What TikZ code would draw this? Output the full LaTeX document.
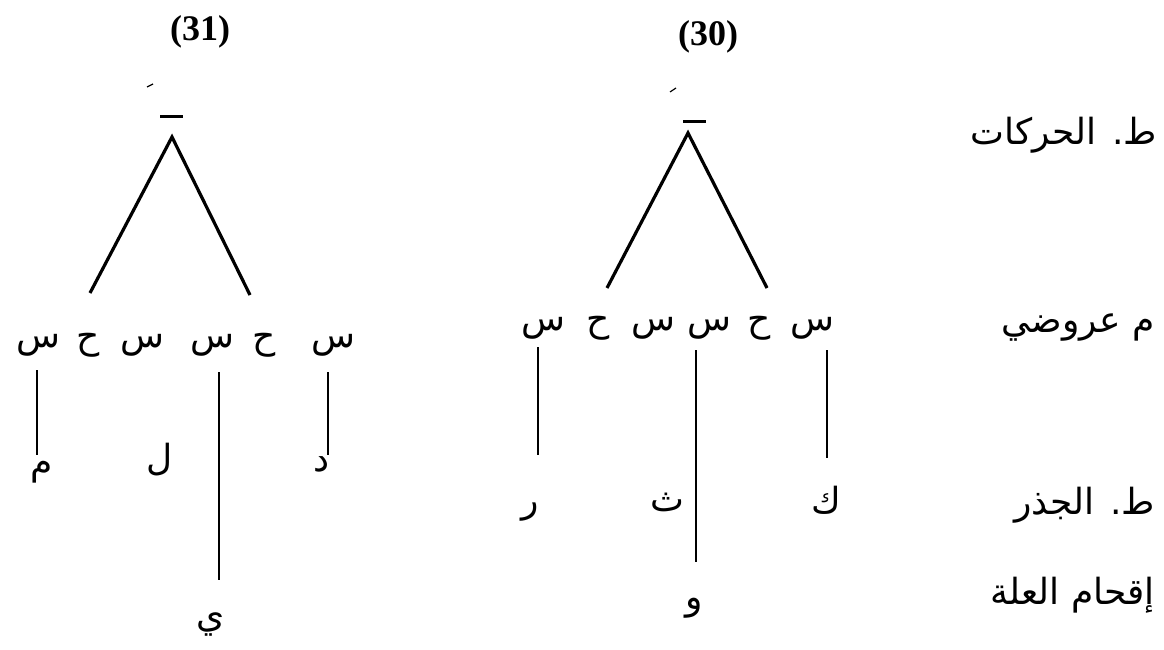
\documentclass[tikz,border=0pt]{standalone}
\usepackage{fontspec}
\setmainfont{Liberation Serif}
\newfontfamily\arabicfont[Script=Arabic]{DejaVu Sans}
\TeXXeTstate=1
\begin{document}
\begin{tikzpicture}[x=1pt,y=-1pt,
  num/.style={font=\fontsize{36}{40}\selectfont\bfseries, inner sep=0pt},
  let/.style={font=\arabicfont\fontsize{36}{40}\selectfont, inner sep=0pt},
  lab/.style={font=\arabicfont\fontsize{36}{40}\selectfont, inner sep=0pt, anchor=east},
  leg/.style={line width=3.2pt},
  vl/.style={line width=2.6pt},
  bar/.style={line width=3pt},
  tick/.style={line width=1.2pt}]
\useasboundingbox (0,0) rectangle (1164,650);
% ---------- Tree 31 ----------
\node[num] (n31) at (200,32) {(31)};
\coordinate (k31a) at (147,87); \coordinate (k31b) at (153,84);
\draw[tick] (k31a) -- (k31b);
\coordinate (b31a) at (160,117); \coordinate (b31b) at (183,117);
\draw[bar] (b31a) -- (b31b);
\coordinate (ap31) at (172,137);
\coordinate (l31) at (90,293);
\coordinate (r31) at (250,295);
\draw[leg, line join=miter] (l31) -- (ap31) -- (r31);
\node[let] (a1) at (38,345) {\beginR س\endR};
\node[let] (a2) at (88,345) {\beginR ح\endR};
\node[let] (a3) at (142,345) {\beginR س\endR};
\node[let] (a4) at (212,345) {\beginR س\endR};
\node[let] (a5) at (264,345) {\beginR ح\endR};
\node[let] (a6) at (333,345) {\beginR س\endR};
\node[let] (m31) at (42,472) {\beginR م\endR};
\node[let] (lam31) at (160,460) {\beginR ل\endR};
\node[let] (y31) at (211,624) {\beginR ي\endR};
\node[let] (d31) at (322,464) {\beginR د\endR};
\coordinate (v1t) at (37,370); \coordinate (v1b) at (37,455);
\coordinate (v2t) at (219,372); \coordinate (v2b) at (219,580);
\coordinate (v3t) at (328,372); \coordinate (v3b) at (328,455);
\draw[vl] (v1t) -- (v1b);
\draw[vl] (v2t) -- (v2b);
\draw[vl] (v3t) -- (v3b);
% ---------- Tree 30 ----------
\node[num] (n30) at (708,37) {(30)};
\coordinate (k30a) at (670,92); \coordinate (k30b) at (676,88);
\draw[tick] (k30a) -- (k30b);
\coordinate (b30a) at (683,122); \coordinate (b30b) at (706,122);
\draw[bar] (b30a) -- (b30b);
\coordinate (ap30) at (688,133);
\coordinate (l30) at (607,288);
\coordinate (r30) at (767,288);
\draw[leg, line join=miter] (l30) -- (ap30) -- (r30);
\node[let] (c1) at (543,328) {\beginR س\endR};
\node[let] (c2) at (598,328) {\beginR ح\endR};
\node[let] (c3) at (653,328) {\beginR س\endR};
\node[let] (c4) at (709,328) {\beginR س\endR};
\node[let] (c5) at (759,328) {\beginR ح\endR};
\node[let] (c6) at (812,328) {\beginR س\endR};
\node[let] (r30n) at (530,512) {\beginR ر\endR};
\node[let] (th30) at (667,502) {\beginR ث\endR};
\node[let] (w30) at (694,608) {\beginR و\endR};
\node[let] (k30) at (826,500) {\beginR ك\endR};
\coordinate (w1t) at (538,347); \coordinate (w1b) at (538,455);
\coordinate (w2t) at (696,350); \coordinate (w2b) at (696,562);
\coordinate (w3t) at (827,350); \coordinate (w3b) at (827,458);
\draw[vl] (w1t) -- (w1b);
\draw[vl] (w2t) -- (w2b);
\draw[vl] (w3t) -- (w3b);
% ---------- Level labels ----------
\node[lab] (L1) at (1157,135) {\beginR ط. الحركات\endR};
\node[lab] (L2) at (1155,328) {\beginR م عروضي\endR};
\node[lab] (L3) at (1155,505) {\beginR ط. الجذر\endR};
\node[lab] (L4) at (1155,595) {\beginR إقحام العلة\endR};
\end{tikzpicture}
\end{document}
